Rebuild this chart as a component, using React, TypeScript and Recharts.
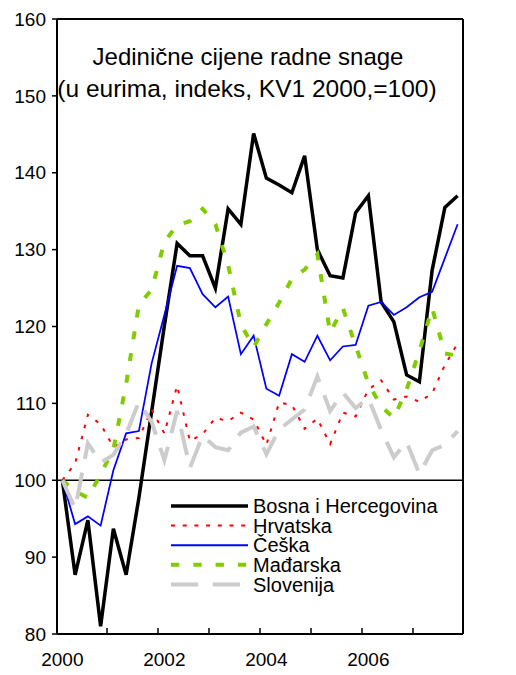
import React from 'react';
import { LineChart, Line, XAxis, YAxis, ReferenceLine, Legend } from 'recharts';

const FONT = '"Liberation Sans", Arial, Helvetica, sans-serif';

const quarters = [
  '2000 KV1', '2000 KV2', '2000 KV3', '2000 KV4',
  '2001 KV1', '2001 KV2', '2001 KV3', '2001 KV4',
  '2002 KV1', '2002 KV2', '2002 KV3', '2002 KV4',
  '2003 KV1', '2003 KV2', '2003 KV3', '2003 KV4',
  '2004 KV1', '2004 KV2', '2004 KV3', '2004 KV4',
  '2005 KV1', '2005 KV2', '2005 KV3', '2005 KV4',
  '2006 KV1', '2006 KV2', '2006 KV3', '2006 KV4',
  '2007 KV1', '2007 KV2', '2007 KV3', '2007 KV4',
];

const yearLabels = ['2000', '2002', '2004', '2006'];
const yTicks = [80, 90, 100, 110, 120, 130, 140, 150, 160];

const bih = [100, 87.7, 94.8, 81.0, 93.7, 87.7, 97.7, 108.9, 120.1, 130.8, 129.2, 129.2, 125.0, 135.3, 133.3, 145.1, 139.3, 138.4, 137.4, 142.2, 130.0, 126.6, 126.3, 134.8, 137.0, 123.2, 120.6, 113.7, 112.8, 127.3, 135.5, 137.0];
const hrvatska = [100, 102.2, 108.5, 107.3, 104.3, 105.3, 105.5, 109.2, 106.1, 112.3, 105.1, 106.0, 108.1, 107.7, 108.8, 107.9, 104.6, 110.1, 109.8, 106.7, 108.0, 104.7, 108.8, 108.3, 111.8, 113.0, 110.5, 110.9, 110.2, 111.3, 115.0, 117.8];
const ceska = [100, 94.3, 95.3, 94.1, 101.3, 106.1, 106.4, 115.2, 121.5, 127.9, 127.6, 124.2, 122.5, 123.9, 116.4, 118.8, 111.9, 111.0, 116.4, 115.4, 118.8, 115.6, 117.4, 117.6, 122.7, 123.2, 121.5, 122.5, 123.8, 124.5, 128.9, 133.3];
const madarska = [100, 98.6, 97.7, 100.8, 104.0, 112.5, 122.8, 124.8, 131.0, 133.2, 133.7, 135.3, 133.3, 128.0, 120.3, 117.3, 120.3, 123.1, 126.2, 127.4, 129.4, 119.2, 122.4, 117.5, 112.6, 109.6, 108.1, 111.8, 116.8, 122.4, 116.5, 116.2];
const slovenija = [100, 96.3, 104.8, 102.3, 103.3, 106.0, 110.2, 107.6, 102.6, 109.0, 101.6, 105.8, 104.3, 103.9, 106.2, 107.0, 103.4, 106.6, 107.9, 109.2, 113.5, 109.0, 111.4, 109.4, 110.7, 106.5, 103.0, 105.0, 100.8, 103.9, 104.6, 106.4];

const data = quarters.map((q, i) => ({
  q,
  bih: bih[i],
  hr: hrvatska[i],
  cz: ceska[i],
  hu: madarska[i],
  si: slovenija[i],
}));

const series = [
  { key: 'bih', name: 'Bosna i Hercegovina', color: '#000000', width: 3.5, dash: undefined as string | undefined, legendWidth: 3.5, legendDash: undefined as string | undefined },
  { key: 'hr', name: 'Hrvatska', color: '#ff0000', width: 2, dash: '3.5 8', legendWidth: 2, legendDash: '4 7.7' },
  { key: 'cz', name: 'Češka', color: '#0000ff', width: 1.75, dash: undefined, legendWidth: 2, legendDash: undefined },
  { key: 'hu', name: 'Mađarska', color: '#80cc00', width: 4, dash: '8 14', legendWidth: 4, legendDash: '8.3 14' },
  { key: 'si', name: 'Slovenija', color: '#cccccc', width: 4, dash: '27 14', legendWidth: 4, legendDash: '27.3 14.4' },
];

const XTick = (props: any) => {
  const { x, y, payload } = props;
  const i: number = payload?.index ?? props.index ?? 0;
  const off: number = payload?.offset ?? 0;
  return (
    <g>
      {i % 4 === 0 && i > 0 ? (
        <line x1={x - off} x2={x - off} y1={y} y2={y - 6} stroke="#000" strokeWidth={1.5} />
      ) : null}
      {i % 8 === 0 ? (
        <text x={x} y={y + 19} dy="0.71em" textAnchor="middle" fontSize={19} fontFamily={FONT} fill="#000">
          {yearLabels[i / 8]}
        </text>
      ) : null}
    </g>
  );
};

const LegendContent = () => (
  <svg width={290} height={100} style={{ display: 'block', overflow: 'visible' }}>
    {series.map((s, k) => {
      const cy = 11 + k * 19.6;
      return (
        <g key={s.key}>
          <line x1={6} x2={83} y1={cy} y2={cy} stroke={s.color} strokeWidth={s.legendWidth} strokeDasharray={s.legendDash} />
          <text x={88} y={cy} dy="0.355em" fontSize={20} fontFamily={FONT} fill="#000">
            {s.name}
          </text>
        </g>
      );
    })}
  </svg>
);

export default function App() {
  return (
    <div style={{ position: 'absolute', left: 0, top: 0, width: 516, height: 675, background: '#fff' }}>
      <LineChart width={516} height={675} data={data} margin={{ top: 19, right: 0, bottom: 0, left: 0 }}>
        <XAxis
          dataKey="q"
          type="category"
          scale="band"
          padding={{ left: -1, right: -1 }}
          height={41}
          interval={0}
          tickSize={0}
          tickMargin={0}
          tickLine={false}
          axisLine={{ stroke: '#000', strokeWidth: 2 }}
          tick={(p: any) => <XTick {...p} />}
        />
        <YAxis
          yAxisId="left"
          orientation="left"
          width={57}
          domain={[80, 160]}
          ticks={yTicks}
          interval={0}
          tickSize={5}
          tickMargin={6}
          tickLine={{ stroke: '#000', strokeWidth: 1.5 }}
          axisLine={{ stroke: '#000', strokeWidth: 2 }}
          tick={{ fill: '#000', fontSize: 19, fontFamily: FONT }}
        />
        <YAxis
          yAxisId="right"
          orientation="right"
          width={53}
          domain={[80, 160]}
          ticks={yTicks}
          interval={0}
          tickSize={-5}
          tickMargin={21}
          tickLine={{ stroke: '#000', strokeWidth: 1.5 }}
          axisLine={{ stroke: '#000', strokeWidth: 2 }}
          tick={{ fill: '#000', fontSize: 19, fontFamily: FONT }}
        />
        <ReferenceLine yAxisId="left" y={160} stroke="#000" strokeWidth={2} />
        <ReferenceLine yAxisId="left" y={100} stroke="#000" strokeWidth={1.5} />
        {series.map((s) => (
          <Line
            key={s.key}
            yAxisId="left"
            type="linear"
            dataKey={s.key}
            name={s.name}
            stroke={s.color}
            strokeWidth={s.width}
            strokeDasharray={s.dash}
            dot={false}
            activeDot={false}
            isAnimationActive={false}
          />
        ))}
        <Legend
          layout="vertical"
          align="center"
          verticalAlign="middle"
          content={() => <LegendContent />}
          wrapperStyle={{ position: 'absolute', left: 165, top: 495, width: 290, height: 100 }}
        />
      </LineChart>
      <svg
        width={516}
        height={110}
        style={{ position: 'absolute', left: 0, top: 0, pointerEvents: 'none' }}
      >
        <text x={248} y={65} textAnchor="middle" fontSize={24} fontFamily={FONT} fill="#000">
          Jedinične cijene radne snage
        </text>
        <text x={247} y={97} textAnchor="middle" fontSize={24.5} fontFamily={FONT} fill="#000">
          (u eurima, indeks, KV1 2000,=100)
        </text>
      </svg>
    </div>
  );
}
